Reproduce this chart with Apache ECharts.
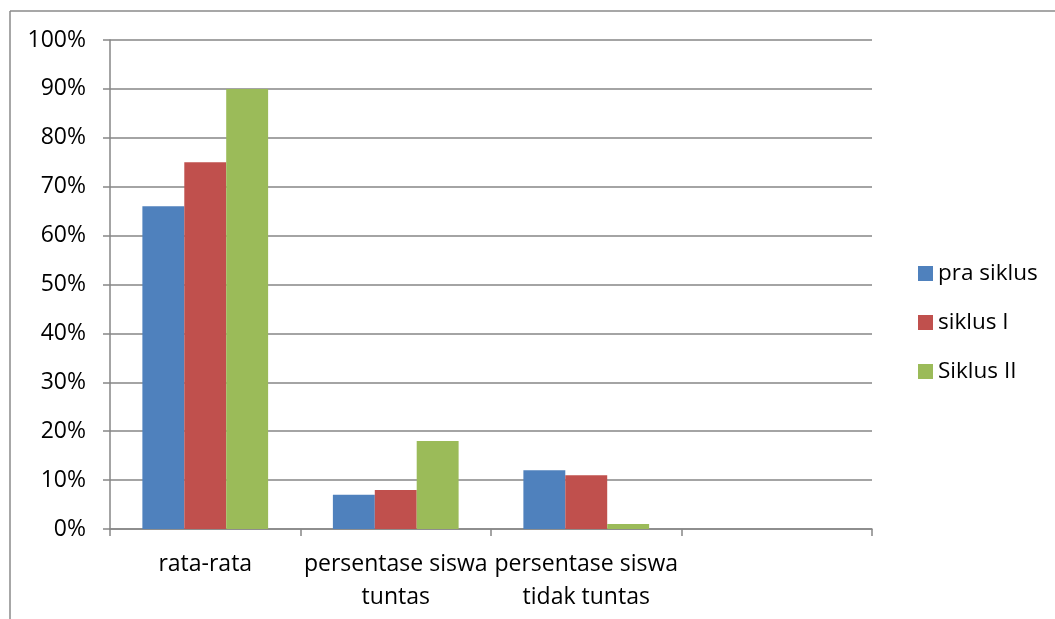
<!DOCTYPE html>
<html>
<head>
<meta charset="utf-8">
<script src="https://cdn.jsdelivr.net/npm/echarts@6/dist/echarts.min.js"></script>
<style>
  html, body { margin: 0; padding: 0; background: #fff; }
  #main { width: 1055px; height: 619px; }
</style>
</head>
<body>
<div id="main"></div>
<script>
var categories = ['rata-rata', 'persentase siswa tuntas', 'persentase siswa tidak tuntas', '']
var seriesNames = ['pra siklus', 'siklus I', 'Siklus II']
var praSiklus = [66, 7, 12, null]
var siklusI = [75, 8, 11, null]
var siklusII = [90, 18, 1, null]
var yTicks = [0, 10, 20, 30, 40, 50, 60, 70, 80, 90, 100]

var colors = ['#4F81BD', '#C0504D', '#9BBB59']
var font = '"Open Sans", sans-serif'
var chart = echarts.init(document.getElementById('main'))

var option = {
  animation: false,
  color: colors,
  textStyle: { fontFamily: font },
  grid: { left: 110, right: 183, top: 40, bottom: 90 },
  graphic: [
    { type: 'line', shape: { x1: 10, y1: 11, x2: 1055, y2: 11 }, style: { stroke: '#8a8a8a', lineWidth: 1.5 } },
    { type: 'line', shape: { x1: 10, y1: 11, x2: 10, y2: 619 }, style: { stroke: '#8a8a8a', lineWidth: 1.5 } }
  ],
  legend: {
    orient: 'vertical',
    left: 913,
    top: 257,
    itemWidth: 15,
    itemHeight: 15,
    itemGap: 26,
    icon: 'rect',
    data: seriesNames,
    textStyle: { fontFamily: font, fontSize: 22.5, color: '#000' }
  },
  xAxis: {
    type: 'category',
    data: categories,
    axisLine: { lineStyle: { color: '#868686', width: 1.5 } },
    axisTick: { show: true, length: 7, alignWithLabel: false, lineStyle: { color: '#868686', width: 1.5 } },
    axisLabel: {
      interval: 0,
      margin: 19,
      color: '#000',
      fontFamily: font,
      fontSize: 23,
      lineHeight: 33,
      formatter: function (v) { return v.replace('siswa ', 'siswa\n') }
    }
  },
  yAxis: {
    type: 'value',
    min: yTicks[0],
    max: yTicks[yTicks.length - 1],
    interval: 10,
    axisLine: { show: true, lineStyle: { color: '#868686', width: 1.5 } },
    axisTick: { show: true, length: 7, lineStyle: { color: '#868686', width: 1.5 } },
    splitLine: { lineStyle: { color: '#868686', width: 1.5 } },
    axisLabel: {
      margin: 24,
      color: '#000',
      fontFamily: font,
      fontSize: 23,
      formatter: '{value}%'
    }
  },
  series: [
    { name: seriesNames[0], type: 'bar', data: praSiklus, barGap: 0, barCategoryGap: '34%' },
    { name: seriesNames[1], type: 'bar', data: siklusI, barGap: 0, barCategoryGap: '34%' },
    { name: seriesNames[2], type: 'bar', data: siklusII, barGap: 0, barCategoryGap: '34%' }
  ]
}
chart.setOption(option)
</script>
</body>
</html>
